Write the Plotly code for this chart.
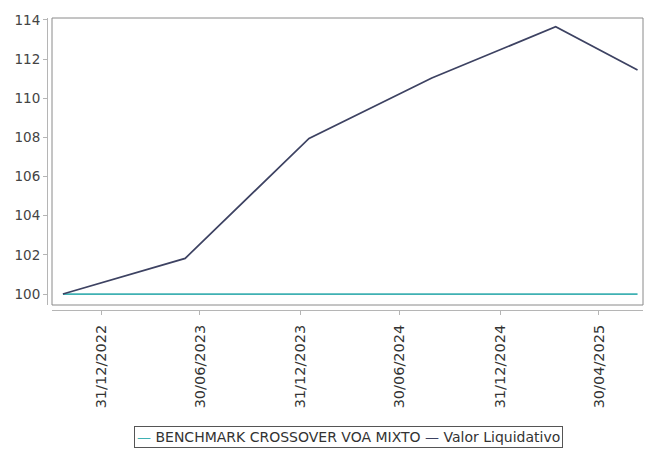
import plotly.graph_objects as go

# ---- data ----
dates = ["2022-10-22", "2023-06-03", "2024-01-16", "2024-08-28", "2025-04-12", "2025-09-09"]
valor_liquidativo = [100.0, 101.82, 107.95, 111.04, 113.65, 111.45]
benchmark = [100.0, 100.0, 100.0, 100.0, 100.0, 100.0]
series_names = ["BENCHMARK CROSSOVER VOA MIXTO", "Valor Liquidativo"]
tick_dates = ["2022-12-31", "2023-06-30", "2023-12-31", "2024-06-30", "2024-12-31", "2025-06-30"]
tick_labels = ["31/12/2022", "30/06/2023", "31/12/2023", "30/06/2024", "31/12/2024", "30/04/2025"]
y_ticks = [100, 102, 104, 106, 108, 110, 112, 114]

colors = ["#3fb1b3", "#3d4262"]
FONT = "DejaVu Sans"

fig = go.Figure()
fig.add_trace(go.Scatter(x=dates, y=benchmark, mode="lines", name=series_names[0],
                         line=dict(color=colors[0], width=1.7)))
fig.add_trace(go.Scatter(x=dates, y=valor_liquidativo, mode="lines", name=series_names[1],
                         line=dict(color=colors[1], width=1.7)))

W, H = 646, 450
ml, mr, mt, mb = 47, 3, 18, 140
pw = W - ml - mr
ph = H - mt - mb
gap = 5
xd0 = gap / pw
yd0 = gap / ph

fig.update_layout(
    width=W, height=H,
    margin=dict(l=ml, r=mr, t=mt, b=mb, pad=0),
    paper_bgcolor="white", plot_bgcolor="white",
    showlegend=False,
    font=dict(family=FONT, size=13, color="#444444"),
    xaxis=dict(
        type="date", domain=[xd0, 1], anchor="free", position=0,
        range=["2022-10-02", "2025-09-19"],
        tickvals=tick_dates, ticktext=tick_labels, tickangle=-90,
        showgrid=False, zeroline=False,
        showline=True, linecolor="#b5b5b5", linewidth=1,
        ticks="outside", ticklen=4, tickcolor="#b5b5b5",
        ticklabelstandoff=4,
        tickfont=dict(family=FONT, size=14.5, color="#333333"),
    ),
    yaxis=dict(
        domain=[yd0, 1], anchor="free", position=0,
        range=[99.44, 114.1],
        tickvals=y_ticks,
        showgrid=False, zeroline=False,
        showline=True, linecolor="#b5b5b5", linewidth=1,
        ticks="outside", ticklen=4, tickcolor="#b5b5b5",
        tickfont=dict(family=FONT, size=13.5, color="#444444"),
    ),
)

# plot border
fig.add_shape(type="rect", xref="paper", yref="paper", x0=xd0, x1=1, y0=yd0, y1=1,
              line=dict(color="#8a8a8a", width=1), layer="above")

# custom legend (single boxed text line with coloured dashes)
def px_x(p):
    return (p - ml) / pw

def px_y(p):
    return (H - mb - p) / ph

legend_text = " ".join(
    f"<span style='color:{c}'>—</span> {n}" for n, c in zip(series_names, colors)
)
fig.add_annotation(xref="paper", yref="paper", x=px_x(348), y=px_y(437), text=legend_text,
                   showarrow=False, xanchor="center", yanchor="middle",
                   bordercolor="#555555", borderwidth=1, borderpad=2, bgcolor="white",
                   font=dict(family=FONT, size=14, color="#333333"))

fig.write_html("out.html", config={"displayModeBar": False},
               post_script="document.body.style.margin='0';")
